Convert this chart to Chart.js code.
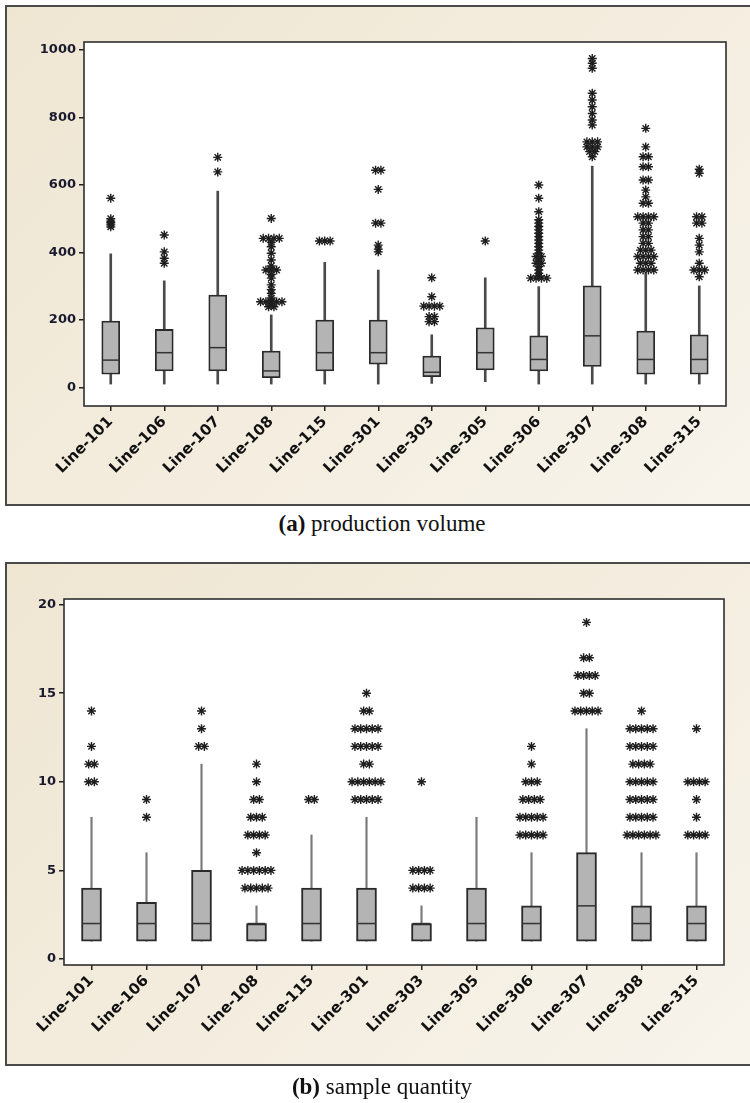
<!DOCTYPE html>
<html>
<head>
<meta charset="utf-8">
<script src="https://cdn.jsdelivr.net/npm/chart.js@4.4.1/dist/chart.umd.min.js"></script>
<style>
  html, body { margin:0; padding:0; background:#ffffff; width:750px; height:1103px; overflow:hidden; position:relative; }
  .frame { position:absolute; left:5px; width:760px; box-sizing:border-box;
           border:2px solid #4a4a4a; border-right:none;
           background:linear-gradient(135deg, #efe6d2 0%, #f3ecdd 45%, #f8f4ec 100%); }
  #frameA { top:5px; height:501px; }
  #frameB { top:562px; height:504px; }
  canvas { position:absolute; left:0; }
  #chartA { top:0; }
  #chartB { top:545px; }
  .cap { position:absolute; left:0; width:764px; text-align:center;
         font-family:'Liberation Serif','Times New Roman',serif; font-size:23px; color:#111; line-height:26px; }
  .cap b { font-weight:bold; }
  #capA { top:511px; }
  #capB { top:1074px; }
</style>
</head>
<body>
<div class="frame" id="frameA"></div>
<div class="frame" id="frameB"></div>
<canvas id="chartA" width="750" height="510"></canvas>
<canvas id="chartB" width="750" height="530"></canvas>
<div class="cap" id="capA"><b>(a)</b> production volume</div>
<div class="cap" id="capB"><b>(b)</b> sample quantity</div>
<script>
// ---------- data ----------
const categories = ['Line-101','Line-106','Line-107','Line-108','Line-115','Line-301','Line-303','Line-305','Line-306','Line-307','Line-308','Line-315'];

// (a) production volume
const volTicks    = [0, 200, 400, 600, 800, 1000];
const volLow      = [10, 10, 10, 10, 10, 10, 12, 17, 10, 10, 10, 10];
const volQ1       = [39, 49, 49, 29, 49, 69, 32, 52, 49, 62, 39, 39];
const volMedian   = [81, 103, 118, 49, 103, 103, 45, 103, 83, 153, 83, 83];
const volQ3       = [197, 172, 274, 108, 200, 200, 93, 177, 153, 301, 167, 156];
const volHigh     = [396, 316, 582, 215, 371, 348, 156, 325, 299, 656, 338, 301];
const volOutliers = [
  [561, 500, 493, 488, 482, 476],
  [452, 402, 383, 368],
  [682, 639],
  [501, 442, 442, 442, 442, 430, 417, 398, 378, 360, 348, 348, 348, 335, 324, 304, 290, 279, 265, 254, 254, 254, 254, 254, 247, 239, 239],
  [434, 434, 434],
  [644, 644, 587, 487, 487, 422, 410, 402],
  [325, 269, 241, 241, 241, 241, 210, 210, 195, 195],
  [434],
  [600, 561, 521, 497, 487, 477, 467, 457, 447, 437, 427, 417, 407, 398, 388, 388, 378, 368, 368, 358, 348, 338, 330, 324, 324, 324, 324],
  [975, 961, 946, 872, 852, 832, 812, 793, 778, 728, 728, 728, 713, 713, 713, 699, 699, 684],
  [768, 713, 684, 684, 654, 654, 615, 615, 585, 565, 546, 546, 506, 506, 506, 506, 487, 487, 467, 467, 447, 447, 427, 427, 407, 407, 407, 388, 388, 388, 388, 368, 368, 368, 348, 348, 348, 348],
  [647, 635, 506, 506, 487, 487, 442, 422, 402, 368, 348, 348, 348, 328]
];

// (b) sample quantity
const qtyTicks    = [0, 5, 10, 15, 20];
const qtyLow      = [1, 1, 1, 1, 1, 1, 1, 1, 1, 1, 1, 1];
const qtyQ1       = [1, 1, 1, 1, 1, 1, 1, 1, 1, 1, 1, 1];
const qtyMedian   = [2, 2, 2, 2, 2, 2, 2, 2, 2, 3, 2, 2];
const qtyQ3       = [4, 3.2, 5, 2, 4, 4, 2, 4, 3, 6, 3, 3];
const qtyHigh     = [8, 6, 11, 3, 7, 8, 3, 8, 6, 13, 6, 6];
const qtyOutliers = [
  [14, 12, 11, 11, 10, 10],
  [9, 8],
  [14, 13, 12, 12],
  [11, 10, 9, 9, 8, 8, 8, 7, 7, 7, 7, 6, 5, 5, 5, 5, 5, 5, 4, 4, 4, 4, 4],
  [9, 9],
  [15, 14, 14, 13, 13, 13, 13, 13, 12, 12, 12, 12, 12, 11, 11, 10, 10, 10, 10, 10, 10, 9, 9, 9, 9, 9],
  [10, 5, 5, 5, 5, 4, 4, 4, 4],
  [],
  [12, 11, 10, 10, 10, 9, 9, 9, 9, 8, 8, 8, 8, 8, 7, 7, 7, 7, 7],
  [19, 17, 17, 16, 16, 16, 16, 15, 15, 14, 14, 14, 14, 14],
  [14, 13, 13, 13, 13, 13, 12, 12, 12, 12, 12, 11, 11, 11, 11, 10, 10, 10, 10, 10, 9, 9, 9, 9, 9, 8, 8, 8, 8, 8, 7, 7, 7, 7, 7, 7],
  [13, 10, 10, 10, 10, 9, 8, 7, 7, 7, 7]
];

// ---------- helpers ----------
function outlierPoints(lists, step) {
  const pts = [];
  lists.forEach((vals, i) => {
    const counts = new Map();
    vals.forEach(v => counts.set(v, (counts.get(v) || 0) + 1));
    counts.forEach((n, v) => {
      for (let j = 0; j < n; j++) pts.push({ x: i + (j - (n - 1) / 2) * step, y: v });
    });
  });
  return pts;
}

const plotFrame = {
  id: 'plotFrame',
  beforeDraw(chart) {
    const a = chart.chartArea, c = chart.ctx;
    c.save(); c.fillStyle = '#ffffff';
    c.fillRect(a.left, a.top, a.right - a.left, a.bottom - a.top);
    c.restore();
  },
  afterDraw(chart) {
    const a = chart.chartArea, c = chart.ctx;
    c.save(); c.strokeStyle = '#2e2e2e'; c.lineWidth = 1.6;
    c.strokeRect(a.left, a.top, a.right - a.left, a.bottom - a.top);
    c.restore();
  }
};

function makeBoxChart(canvasId, cfg) {
  const n = categories.length;
  const boxes = categories.map((_, i) => [cfg.q1[i], cfg.q3[i]]);
  const lowW  = categories.map((_, i) => [cfg.low[i], cfg.q1[i]]);
  const highW = categories.map((_, i) => [cfg.q3[i], cfg.high[i]]);
  const meds  = categories.map((_, i) => ({ x: i, y: cfg.median[i] }));
  const outs  = outlierPoints(cfg.outliers, cfg.spread);
  const font  = { family: "'DejaVu Sans', Verdana, sans-serif", weight: 'bold' };

  return new Chart(document.getElementById(canvasId), {
    type: 'bar',
    data: {
      labels: categories,
      datasets: [
        { data: lowW,  grouped: false, barThickness: cfg.whiskerWidth, backgroundColor: cfg.whiskerColor, borderWidth: 0, order: 3, xAxisID: 'x' },
        { data: highW, grouped: false, barThickness: cfg.whiskerWidth, backgroundColor: cfg.whiskerColor, borderWidth: 0, order: 3, xAxisID: 'x' },
        { data: boxes, grouped: false, barThickness: cfg.boxWidth, backgroundColor: '#b4b4b4', borderColor: cfg.boxBorder, borderWidth: cfg.boxBorderWidth, borderSkipped: false, order: 2, xAxisID: 'x' },
        { type: 'scatter', data: meds, xAxisID: 'x2', pointStyle: 'line', pointRadius: cfg.boxWidth / 2 - 1, borderColor: '#333333', borderWidth: 1.5, order: 1 },
        { type: 'scatter', data: outs, xAxisID: 'x2', pointStyle: 'star', pointRadius: cfg.starRadius, borderColor: '#1e1e1e', borderWidth: 1.4, order: 0 }
      ]
    },
    options: {
      responsive: false,
      animation: false,
      events: [],
      layout: { padding: cfg.padding },
      plugins: { legend: { display: false }, tooltip: { enabled: false }, title: { display: false } },
      scales: {
        x: {
          type: 'category', offset: true,
          grid: { display: true, drawOnChartArea: false, drawTicks: true, tickLength: 5, offset: false, color: '#222', lineWidth: 1.5 },
          border: { display: false },
          ticks: { autoSkip: false, minRotation: 45, maxRotation: 45, padding: 2, color: '#111', font: Object.assign({ size: cfg.xFont }, font) },
          afterFit(scale) { scale.height = 100; }
        },
        x2: { type: 'linear', display: false, offset: false, bounds: 'data', min: -0.5, max: n - 0.5, grace: 0 },
        y: {
          min: cfg.yMin, max: cfg.yMax,
          grid: { display: true, drawOnChartArea: false, drawTicks: true, tickLength: 5, color: '#222', lineWidth: 1.5 },
          border: { display: false },
          ticks: { padding: 3, color: '#1a1a2e', font: Object.assign({ size: cfg.yFont }, font), callback: v => String(v) },
          afterBuildTicks(scale) { scale.ticks = cfg.ticks.map(v => ({ value: v })); },
          afterFit(scale) { scale.width = cfg.yWidth; }
        }
      }
    },
    plugins: [plotFrame]
  });
}

makeBoxChart('chartA', {
  low: volLow, q1: volQ1, median: volMedian, q3: volQ3, high: volHigh, outliers: volOutliers, ticks: volTicks,
  yMin: -55, yMax: 1024, yWidth: 84, padding: { left: 0, top: 42, right: 24, bottom: 4 },
  boxWidth: 18, boxBorder: '#2a2a2a', boxBorderWidth: 1.8, whiskerWidth: 2, whiskerColor: '#4a4a4a',
  spread: 0.1, starRadius: 4.5, xFont: 15, yFont: 13
});

makeBoxChart('chartB', {
  low: qtyLow, q1: qtyQ1, median: qtyMedian, q3: qtyQ3, high: qtyHigh, outliers: qtyOutliers, ticks: qtyTicks,
  yMin: -0.34, yMax: 20.32, yWidth: 64, padding: { left: 0, top: 54, right: 26, bottom: 10 },
  boxWidth: 20, boxBorder: '#2a2a2a', boxBorderWidth: 2, whiskerWidth: 1.5, whiskerColor: '#7a7a7a',
  spread: 0.105, starRadius: 4.5, xFont: 15, yFont: 13
});
</script>
</body>
</html>
